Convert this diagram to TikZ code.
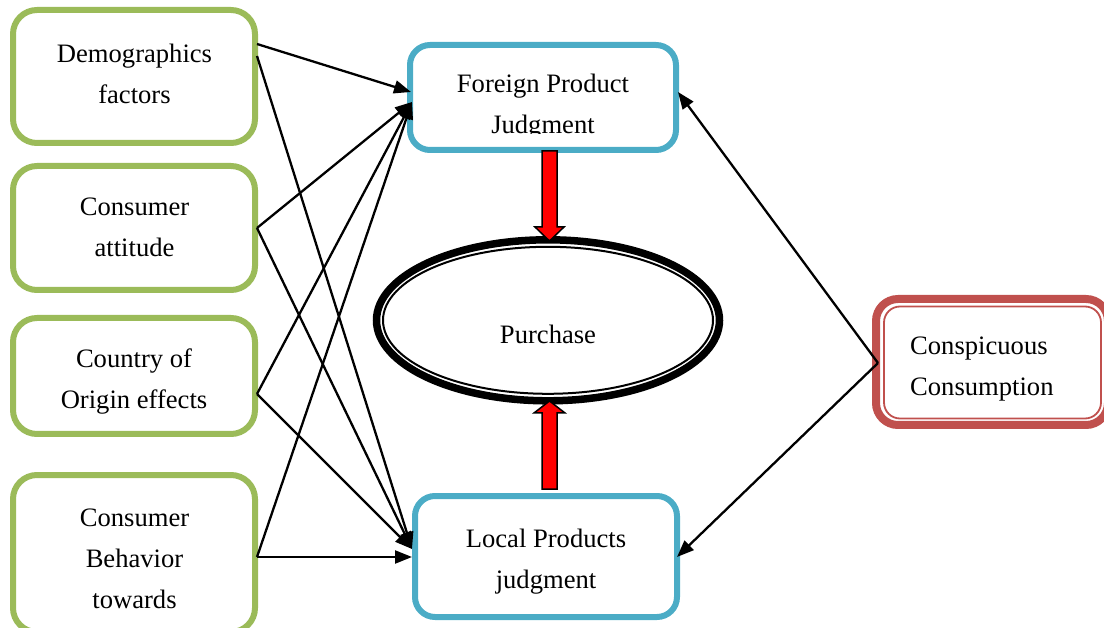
\documentclass[tikz,border=0pt]{standalone}
\usepackage{fontspec}
\setmainfont{Liberation Serif}
\usetikzlibrary{arrows.meta,shapes.geometric,calc}
\definecolor{cgreen}{HTML}{9BBB59}
\definecolor{cblue}{HTML}{4BACC6}
\definecolor{cred}{HTML}{C0504D}
\newcommand\diagfont{\fontsize{26.6}{41}\selectfont}
\begin{document}
\begin{tikzpicture}[x=1pt,y=-1pt,
  gbox/.style={draw=cgreen, line width=6pt, rounded corners=24pt, minimum width=242pt, outer sep=0pt, inner sep=0pt},
  bbox/.style={draw=cblue, line width=6pt, rounded corners=20pt, outer sep=0pt, inner sep=0pt},
  lbl/.style={font=\diagfont, align=center, inner sep=0pt},
  conn/.style={line width=2.3pt, -{Triangle[length=17pt,width=13pt]}},
  redarrow/.style={fill=red, draw=black, line width=1.5pt, line join=miter}]
\useasboundingbox (0,0) rectangle (1104,628);

% left boxes
\node[gbox, minimum height=133pt] (g1) at (134,76.5) {};
\node[gbox, minimum height=124pt] (g2) at (134,228) {};
\node[gbox, minimum height=116pt] (g3) at (134,376) {};
\node[gbox, minimum height=157pt] (g4) at (134,553.5) {};
\node[lbl] (t1) at (134.5,74.8) {\strut Demographics\\\strut factors};
\node[lbl] (t2) at (134.5,228.3) {\strut Consumer\\\strut attitude};
\node[lbl] (t3) at (134,380) {\strut Country of\\\strut Origin effects};
\node[lbl] (t4) at (134.5,559.6) {\strut Consumer\\\strut Behavior\\\strut towards};

% judgment boxes
\node[bbox, minimum width=266pt, minimum height=105pt] (fpj) at (543,97.5) {};
\node[bbox, minimum width=262pt, minimum height=121pt] (lpj) at (546,556.5) {};
\begin{scope}
  \clip (400,40) rectangle (690,134);
  \node[lbl] (tf) at (543,104.8) {\strut Foreign Product\\\strut Judgment};
\end{scope}
\node[lbl] (tl) at (546,559.3) {\strut Local Products\\\strut judgment};

% purchase
\node[ellipse, draw, line width=7.5pt, minimum width=343pt, minimum height=161pt, outer sep=0pt, inner sep=0pt] (pur) at (548,320.3) {};
\draw[line width=2pt] (pur.center) ellipse [x radius=165pt, y radius=73.5pt];
\node[lbl] (tp) at (548,335.3) {\strut Purchase};

% conspicuous consumption
\node[draw=cred, line width=8pt, rounded corners=22pt, minimum width=232pt, minimum height=126pt, outer sep=0pt, inner sep=0pt] (cc) at (992,362) {};
\draw[cred, line width=1.8pt, rounded corners=16pt] (884,306.5) rectangle (1101,418.5);
\node[lbl, align=left, anchor=west] (tc) at (910,366.8) {\strut Conspicuous\\\strut Consumption};

% red arrows
\draw[redarrow] (542,151) -- (542,227) -- (535,227) -- (549.5,241) -- (564,227) -- (557,227) -- (557,151) -- cycle;
\draw[redarrow] (542,489) -- (542,413) -- (534,413) -- (549.5,401) -- (565,413) -- (557,413) -- (557,489) -- cycle;

% connector ports
\coordinate (d1) at (257,44);
\coordinate (d2) at (257,56);
\coordinate (ca) at (257,228);
\coordinate (co) at (257,394);
\coordinate (cb) at (257,557);
\coordinate (f1) at (411,92);
\coordinate (f2) at (412,102);
\coordinate (l1) at (412,557);
\coordinate (l2) at (412,549);
\coordinate (cs) at (878,363);
\coordinate (fr) at (678,92);
\coordinate (lr) at (677,557);

\draw[conn] (d1) -- (f1);
\draw[conn] (ca) -- (f2);
\draw[conn] (co) -- (f2);
\draw[conn] (cb) -- (f2);
\draw[conn] (d2) -- (l2);
\draw[conn] (ca) -- (l2);
\draw[conn] (co) -- (l2);
\draw[conn] (cb) -- (l1);
\draw[conn] (cs) -- (fr);
\draw[conn] (cs) -- (lr);
\end{tikzpicture}
\end{document}
